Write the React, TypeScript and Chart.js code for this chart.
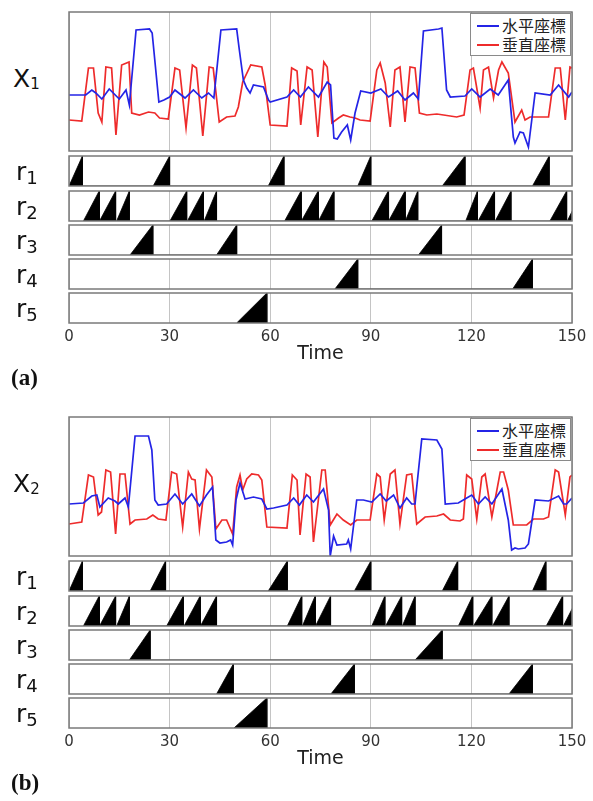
import React, { useEffect, useRef } from "react";
import { Chart, registerables } from "chart.js";

Chart.register(...registerables);

// ---------------- data ----------------
const TIME_TICKS = [0, 30, 60, 90, 120, 150];
const SERIES_LABELS = ["水平座標", "垂直座標"];
const ROW_LABELS = ["1", "2", "3", "4", "5"];

// panel (a) – X1 traces: [time, value]
const x1Horizontal: [number, number][] = [
  [0, 56], [5, 56], [6.8, 61], [8, 58], [9.8, 52], [12, 62], [15, 52], [17, 61], [18, 46], [20, 121],
  [24, 122], [24.8, 118], [26.8, 49], [28.3, 51], [30, 54], [31.6, 61], [34.6, 53], [37.1, 61], [39.6, 53],
  [41.6, 58], [43.2, 53], [45.3, 121], [50, 122], [50.8, 101], [52, 71], [53, 63], [54, 58], [55, 66],
  [58, 64], [59.5, 51], [60, 49], [65, 54], [67, 61], [69, 54], [71.4, 64], [74.4, 54], [77, 69], [78, 66],
  [79, 13], [80, 12], [81.3, 19], [83, 26], [84, 11], [85.3, 38], [87, 60], [90, 58], [93, 62], [95.3, 54],
  [98, 60], [100.2, 51], [102.7, 58], [104.2, 52], [105.7, 120], [110.2, 122], [111.2, 123], [112.6, 61],
  [113.7, 54], [118.1, 55], [120.1, 62], [122.6, 54], [125.6, 62], [128, 56], [131, 71], [132.5, 14],
  [133, 8], [134.5, 19], [135.5, 18], [137, 4], [139, 58], [143.5, 56], [146, 66], [149, 54], [150, 59],
];
const x1Vertical: [number, number][] = [
  [0, 31], [3.8, 30], [5.8, 83], [7.3, 83], [8.7, 38], [9.8, 29], [11, 84], [12.7, 83], [14, 16], [15.7, 86],
  [17.9, 89], [18.7, 38], [21, 36], [23.7, 39], [25.6, 38], [27, 33], [29.6, 32], [31.6, 83], [33, 81],
  [34.9, 23], [36.8, 86], [38, 83], [39.9, 15], [41.8, 84], [43, 83], [44.8, 29], [47, 34], [49.5, 35],
  [50.5, 44], [51.8, 69], [54.2, 86], [57.5, 84], [58.5, 66], [60, 26], [65, 25], [66.4, 83], [68, 80],
  [69.1, 26], [71, 84], [72.5, 81], [74.2, 14], [76, 89], [77, 84], [78.4, 28], [80.4, 33], [81.8, 36],
  [83.8, 34], [85.3, 33], [86.8, 31], [89.8, 30], [91.8, 81], [92.8, 88], [94.3, 68], [95.8, 24], [97.2, 81],
  [98.7, 84], [100.2, 29], [101.7, 84], [103.2, 83], [104.5, 38], [106.7, 36], [109.7, 37], [111.7, 36],
  [115.6, 34], [117.8, 36], [119.6, 81], [120.6, 83], [122.6, 43], [123.6, 81], [125.1, 84], [126.6, 53],
  [128.1, 81], [129.1, 89], [131, 78], [133, 29], [135, 41], [136, 31], [137.5, 34], [140, 34], [143, 34],
  [145, 83], [146.5, 83], [148, 31], [149.4, 84], [150, 83],
];

// panel (b) – X2 traces
const x2Horizontal: [number, number][] = [
  [0, 52], [4.3, 53], [6.8, 60], [8.3, 61], [9.2, 49], [11.7, 58], [13.7, 55], [14.7, 52], [16.7, 58],
  [17.7, 49], [19.7, 120], [23.7, 120], [24.7, 106], [25.6, 56], [26.6, 51], [29.1, 52], [31.6, 62],
  [33.9, 52], [36.6, 62], [38.9, 50], [41, 61], [42.8, 69], [43.8, 16], [45, 13], [47, 14], [48.2, 16],
  [48.8, 11], [49.8, 56], [51, 73], [52.5, 57], [55, 59], [57.5, 57], [59, 47], [61, 48], [65, 51], [67, 58],
  [68.7, 51], [70.9, 61], [72.9, 54], [75.9, 67], [77.4, 46], [77.9, 0], [78.9, 20], [79.9, 11], [82.8, 12],
  [83.3, 16], [84, 7], [85.8, 56], [87.8, 56], [90.3, 54], [92.8, 62], [94.6, 55], [96.8, 61], [98.7, 48],
  [100.7, 58], [102.2, 52], [103.2, 52], [103.7, 69], [105.2, 117], [109.7, 116], [111.2, 107], [112.2, 52],
  [116.1, 53], [118.6, 58], [120.1, 61], [122.1, 52], [124.1, 59], [126.1, 52], [129.1, 67], [131, 36],
  [132, 6], [133, 8], [134, 7], [136, 8], [137, 12], [139, 56], [143, 55], [146, 60], [147.5, 52],
  [148.4, 52], [150, 58],
];
const x2Vertical: [number, number][] = [
  [0, 32], [3.8, 34], [5.8, 81], [7.3, 79], [8.7, 41], [9.7, 44], [11, 86], [12.4, 84], [13.9, 22],
  [15.2, 82], [16.7, 82], [18.2, 32], [19.7, 36], [23.2, 37], [25, 41], [26.6, 37], [28.9, 36], [30.6, 84],
  [32.1, 82], [33.9, 29], [35.6, 84], [36.6, 77], [37.6, 76], [38.9, 27], [41, 86], [42.6, 79], [43.8, 27],
  [45.6, 36], [47, 36], [48.8, 22], [50, 69], [51, 81], [51.8, 66], [53, 77], [54.5, 82], [56.5, 81],
  [57.5, 76], [59, 29], [65, 28], [66.6, 81], [68, 76], [68.9, 21], [70.7, 82], [71.9, 79], [72.9, 14],
  [75.4, 86], [76.4, 86], [77.9, 31], [79.9, 42], [81.8, 36], [84, 31], [85.8, 36], [89.8, 36], [91.8, 82],
  [92.8, 79], [94, 36], [95.8, 82], [97.2, 86], [98.7, 32], [100.7, 81], [102.2, 82], [103.7, 32],
  [106.2, 39], [109.7, 40], [111.7, 42], [113.7, 36], [116.6, 35], [117.6, 37], [118.6, 81], [120.1, 77],
  [121.6, 37], [123.1, 79], [124.1, 82], [126.1, 39], [128.6, 84], [129.6, 84], [131, 66], [132.5, 31],
  [136.5, 31], [138.5, 37], [141.5, 37], [143, 39], [145, 86], [146, 84], [148, 41], [149.4, 79], [150, 81],
];

// ramp intervals [start, end] for r1..r5
const rampsA_r1 = [[0, 4], [25.1, 30], [59.4, 64.1], [86.1, 90], [111.3, 118.1], [138.2, 143.2]];
const rampsA_r2 = [[4.3, 9], [9.2, 13.9], [14.2, 18], [30.1, 35.1], [35.3, 40.1], [40.3, 44], [64.3, 69.2],
  [69.4, 74.3], [74.5, 79], [90.3, 95.2], [95.4, 100.2], [100.4, 104], [118.3, 121.8], [122, 126.9],
  [127.1, 131.8], [143.4, 148.4], [148.6, 153]];
const rampsA_r3 = [[18.2, 25], [44, 50], [104.2, 111.1]];
const rampsA_r4 = [[79.3, 86.1], [132.3, 138.2]];
const rampsA_r5 = [[50, 59]];

const rampsB_r1 = [[0, 4], [24.2, 28.8], [59.4, 65.1], [85.1, 90], [111.3, 115.9], [138.2, 142.2]];
const rampsB_r2 = [[4.3, 9], [9.2, 13.9], [14.2, 18], [29.1, 34.1], [34.3, 39.1], [39.3, 44], [65.1, 69.4],
  [69.6, 73.4], [73.6, 78], [90.3, 94.2], [94.4, 99.2], [99.4, 103.2], [116.1, 120.4], [120.6, 126.1],
  [126.3, 131.2], [142.3, 147.2], [147.4, 152]];
const rampsB_r3 = [[18, 24.2], [103.2, 111.3]];
const rampsB_r4 = [[44, 49], [78.1, 85.1], [131.2, 138.2]];
const rampsB_r5 = [[49.2, 59]];

// ---------------- style / layout ----------------
const BLUE = "#2424e6";
const RED = "#ee2b2b";
const GRID = "#c4c4c4";
const FRAME = "#7a7a7a";
const FONT = "'DejaVu Sans', sans-serif";
const PADX = 20;
const PADY = 3;
const AXIS_H = 42;
const PLOT_L = 69;
const PLOT_W = 503;
const MAIN_H = 139;
const STRIP_H = 30;
const Y_MAX = 139;

const framePlugin = {
  id: "frame",
  afterDatasetsDraw(chart: any) {
    const { ctx, chartArea: a } = chart;
    ctx.save();
    ctx.strokeStyle = FRAME;
    ctx.lineWidth = 1.5;
    ctx.strokeRect(a.left, a.top, a.right - a.left, a.bottom - a.top);
    ctx.restore();
  },
};

function baseOptions(yMax: number, showAxis: boolean) {
  return {
    animation: false,
    responsive: false,
    events: [],
    layout: { padding: { left: PADX, right: PADX, top: PADY, bottom: PADY } },
    plugins: { legend: { display: false }, tooltip: { enabled: false } },
    scales: {
      x: {
        type: "linear",
        min: 0,
        max: 150,
        afterBuildTicks: (s: any) => {
          s.ticks = TIME_TICKS.map((v) => ({ value: v }));
        },
        afterFit: (s: any) => {
          s.height = showAxis ? AXIS_H : 0;
        },
        grid: { color: GRID, lineWidth: 1, drawTicks: false },
        border: { display: false },
        ticks: { display: showAxis, padding: 5, color: "#333", font: { family: FONT, size: 15 } },
        title: { display: showAxis, text: "Time", color: "#222", padding: 0, font: { family: FONT, size: 19 } },
      },
      y: { display: false, min: 0, max: yMax },
    },
  };
}

function toPts(arr: [number, number][]) {
  return arr.map(([x, y]) => ({ x, y }));
}

function rampPts(ramps: number[][]) {
  const out: { x: number; y: number }[] = [];
  ramps.forEach(([s, e]) => {
    out.push({ x: s, y: 0 }, { x: e, y: 1 }, { x: e, y: 0 });
  });
  return out;
}

function ChartBox({ left, top, width, height, make }: any) {
  const ref = useRef<HTMLCanvasElement>(null);
  useEffect(() => {
    const chart = new Chart(ref.current as HTMLCanvasElement, make());
    return () => chart.destroy();
  }, []);
  return (
    <canvas
      ref={ref}
      width={width}
      height={height}
      style={{ position: "absolute", left, top, width, height }}
    />
  );
}

function Panel({ top, idx, horiz, vert, ramps, stripTops, letter }: any) {
  const mainTop = top;
  const items = [
    { label: SERIES_LABELS[0], color: BLUE },
    { label: SERIES_LABELS[1], color: RED },
  ];
  return (
    <>
      <ChartBox
        left={PLOT_L - PADX}
        top={mainTop - PADY}
        width={PLOT_W + 2 * PADX}
        height={MAIN_H + 2 * PADY}
        make={() => ({
          type: "line",
          data: {
            datasets: [
              { label: SERIES_LABELS[0], data: toPts(horiz), borderColor: BLUE, borderWidth: 1.7, pointRadius: 0, tension: 0, fill: false },
              { label: SERIES_LABELS[1], data: toPts(vert), borderColor: RED, borderWidth: 1.7, pointRadius: 0, tension: 0, fill: false },
            ],
          },
          options: baseOptions(Y_MAX, false),
          plugins: [framePlugin],
        })}
      />
      {/* legend */}
      <div
        style={{
          position: "absolute",
          left: 470,
          top: mainTop + 1,
          width: 101,
          height: 43,
          border: "1px solid #8a8a8a",
          background: "#fff",
          boxSizing: "border-box",
          fontFamily: "'Noto Sans CJK TC', 'Noto Sans CJK JP', sans-serif",
          fontSize: 16,
          color: "#222",
        }}
      >
        {items.map((it, i) => (
          <div key={i} style={{ position: "absolute", left: 6, top: 2 + i * 19, height: 19, display: "flex", alignItems: "center", whiteSpace: "nowrap" }}>
            <span style={{ display: "inline-block", width: 22, height: 2, background: it.color, marginRight: 3 }} />
            <span style={{ lineHeight: "19px" }}>{it.label}</span>
          </div>
        ))}
      </div>
      {/* main y label */}
      <div style={{ position: "absolute", left: 13, top: mainTop + 53, fontFamily: FONT, fontSize: 25, lineHeight: "28px", color: "#111", whiteSpace: "nowrap" }}>
        X<span style={{ fontSize: 15, verticalAlign: -2 }}>{idx}</span>
      </div>
      {ramps.map((r: number[][], k: number) => {
        const last = k === ramps.length - 1;
        const t = stripTops[k];
        return (
          <React.Fragment key={k}>
            <ChartBox
              left={PLOT_L - PADX}
              top={t - PADY}
              width={PLOT_W + 2 * PADX}
              height={STRIP_H + 2 * PADY + (last ? AXIS_H : 0)}
              make={() => ({
                type: "line",
                data: {
                  datasets: [
                    { label: "r" + ROW_LABELS[k], data: rampPts(r), borderColor: "#000", borderWidth: 0.8, backgroundColor: "#000", pointRadius: 0, tension: 0, fill: "origin" },
                  ],
                },
                options: baseOptions(1, last),
                plugins: [framePlugin],
              })}
            />
            <div style={{ position: "absolute", left: 16, top: t + 1, fontFamily: FONT, fontSize: 25, lineHeight: "30px", color: "#111", whiteSpace: "nowrap" }}>
              r<span style={{ fontSize: 18, verticalAlign: -4 }}>{ROW_LABELS[k]}</span>
            </div>
          </React.Fragment>
        );
      })}
      <div style={{ position: "absolute", left: 11, top: top + 353, fontFamily: "'Liberation Serif', serif", fontWeight: "bold", fontSize: 23, lineHeight: "26px", color: "#111" }}>
        ({letter})
      </div>
    </>
  );
}

const STRIP_TOPS_A = [156, 191, 225, 259, 293];
const STRIP_TOPS_B = [561, 596, 630, 664, 698];

export default function App() {
  return (
    <div style={{ position: "absolute", left: 0, top: 0, width: 593, height: 801, overflow: "hidden", background: "#fff" }}>
      <Panel
        top={12}
        idx="1"
        letter="a"
        horiz={x1Horizontal}
        vert={x1Vertical}
        ramps={[rampsA_r1, rampsA_r2, rampsA_r3, rampsA_r4, rampsA_r5]}
        stripTops={STRIP_TOPS_A}
      />
      <Panel
        top={417}
        idx="2"
        letter="b"
        horiz={x2Horizontal}
        vert={x2Vertical}
        ramps={[rampsB_r1, rampsB_r2, rampsB_r3, rampsB_r4, rampsB_r5]}
        stripTops={STRIP_TOPS_B}
      />
    </div>
  );
}
